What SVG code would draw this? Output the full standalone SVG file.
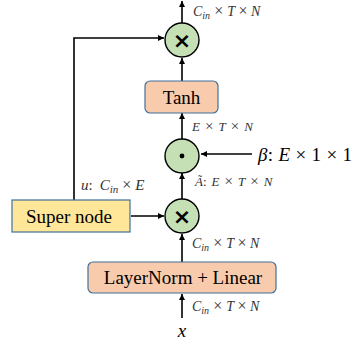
<svg xmlns="http://www.w3.org/2000/svg" width="359" height="349" viewBox="0 0 359 349">
  <defs>
    <marker id="arr" viewBox="0 0 10 10" refX="10" refY="5" markerWidth="6" markerHeight="6" orient="auto" markerUnits="userSpaceOnUse">
      <path d="M0,0 L10,5 L0,10 z" fill="#000"/>
    </marker>
    <style>
      .ln { stroke: #000; stroke-width: 1.6; fill: none; }
      .op { fill: #c5e0b4; stroke: #000; stroke-width: 1.4; }
      .blk { fill: #f8cbad; stroke: #41719c; stroke-width: 1.2; }
      .sn { fill: #ffe699; stroke: #41719c; stroke-width: 1.2; }
      .t { font-family: "Liberation Serif", serif; fill: #000; }
      .m { font-family: "Liberation Serif", serif; font-style: italic; fill: #333; }
      .x { font-style: normal; font-size: 16px; }
      .xs { font-style: normal; font-size: 15px; }
      .sub { font-size: 10px; }
      .sym { font-family: "DejaVu Sans", sans-serif; font-size: 22px; font-weight: bold; fill: #000; }
    </style>
  </defs>

  <g id="connectors">
    <line class="ln" x1="182" y1="23" x2="182" y2="1" marker-end="url(#arr)"/>
    <polyline class="ln" points="74,200 74,38 164,38" marker-end="url(#arr)"/>
    <line class="ln" x1="182" y1="81" x2="182" y2="58" marker-end="url(#arr)"/>
    <line class="ln" x1="182" y1="139" x2="182" y2="113" marker-end="url(#arr)"/>
    <line class="ln" x1="252" y1="154" x2="201" y2="154" marker-end="url(#arr)"/>
    <line class="ln" x1="182" y1="199" x2="182" y2="173" marker-end="url(#arr)"/>
    <line class="ln" x1="131" y1="216" x2="164" y2="216" marker-end="url(#arr)"/>
    <line class="ln" x1="182" y1="262" x2="182" y2="234" marker-end="url(#arr)"/>
    <line class="ln" x1="182" y1="318" x2="182" y2="294" marker-end="url(#arr)"/>
  </g>

  <g id="mul-top">
    <circle class="op" cx="182" cy="40" r="17"/>
    <text class="sym" x="182" y="48" text-anchor="middle">×</text>
  </g>
  <text class="m" x="193" y="16" font-size="14">C<tspan class="sub" dy="3">in</tspan><tspan class="x" dy="-3" dx="4">×</tspan><tspan dx="4">T</tspan><tspan class="x" dx="3.5">×</tspan><tspan dx="3.5">N</tspan></text>

  <g id="tanh">
    <rect class="blk" x="145" y="81" width="73" height="32" rx="5"/>
    <text class="t" x="181.5" y="103.5" font-size="19" text-anchor="middle">Tanh</text>
  </g>
  <text class="m" x="192" y="131" font-size="13">E<tspan class="xs" dx="5">×</tspan><tspan dx="5">T</tspan><tspan class="xs" dx="5">×</tspan><tspan dx="5">N</tspan></text>

  <g id="dot">
    <circle class="op" cx="182" cy="156" r="17"/>
    <circle cx="182" cy="156" r="2.4" fill="#000"/>
  </g>
  <text class="t" x="258" y="161" font-size="19" font-style="italic" textLength="94" lengthAdjust="spacing">β<tspan font-style="normal">: </tspan>E<tspan font-style="normal"> × 1 × 1</tspan></text>

  <text class="m" x="195" y="186" font-size="13">Ã<tspan font-style="normal">:</tspan><tspan dx="5">E</tspan><tspan class="xs" dx="5">×</tspan><tspan dx="5">T</tspan><tspan class="xs" dx="5">×</tspan><tspan dx="5">N</tspan></text>
  <text class="m" x="81" y="190" font-size="15">u<tspan font-style="normal">:</tspan><tspan dx="7">C</tspan><tspan font-size="11" dy="3">in</tspan><tspan class="x" dy="-3" dx="4">×</tspan><tspan dx="4">E</tspan></text>

  <g id="super-node">
    <rect class="sn" x="12" y="200" width="118" height="32"/>
    <text class="t" x="69" y="223" font-size="19" text-anchor="middle">Super node</text>
  </g>

  <g id="mul-bottom">
    <circle class="op" cx="182" cy="216" r="17"/>
    <text class="sym" x="182" y="224" text-anchor="middle">×</text>
  </g>
  <text class="m" x="192" y="248" font-size="14">C<tspan class="sub" dy="3">in</tspan><tspan class="x" dy="-3" dx="4">×</tspan><tspan dx="4">T</tspan><tspan class="x" dx="3.5">×</tspan><tspan dx="3.5">N</tspan></text>

  <g id="layernorm">
    <rect class="blk" x="88" y="262" width="188" height="31" rx="5"/>
    <text class="t" x="183" y="284" font-size="19" text-anchor="middle">LayerNorm + Linear</text>
  </g>
  <text class="m" x="192" y="311" font-size="14">C<tspan class="sub" dy="3">in</tspan><tspan class="x" dy="-3" dx="4">×</tspan><tspan dx="4">T</tspan><tspan class="x" dx="3.5">×</tspan><tspan dx="3.5">N</tspan></text>

  <text class="t" x="182" y="337" font-size="19" font-style="italic" text-anchor="middle">x</text>
</svg>
